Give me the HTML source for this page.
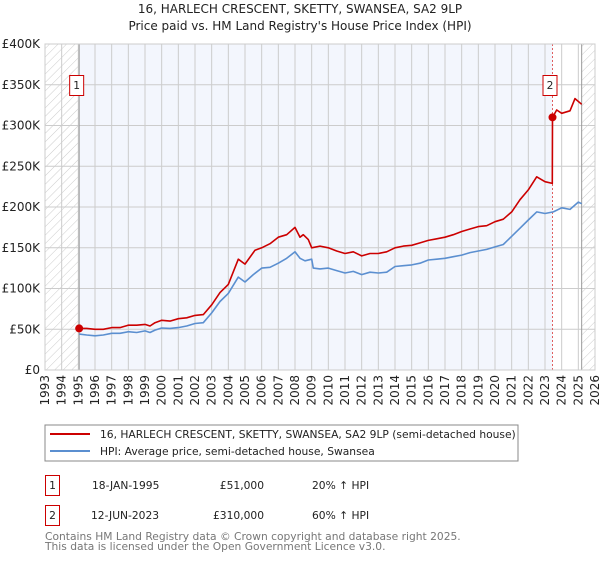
<!DOCTYPE html>
<html><head><meta charset="utf-8"><style>
body{margin:0;background:#fff;font-family:"DejaVu Sans","Liberation Sans",sans-serif;}
svg text{font-family:"DejaVu Sans","Liberation Sans",sans-serif;}
</style></head><body>
<svg id="c" width="600" height="560" viewBox="0 0 600 560" xmlns="http://www.w3.org/2000/svg">
<defs>
<pattern id="hatch" width="6" height="6" patternUnits="userSpaceOnUse" patternTransform="rotate(45)">
<line x1="0" y1="0" x2="0" y2="6" stroke="#ccc" stroke-width="1"/>
</pattern>
</defs>
<text x="300" y="13" text-anchor="middle" font-size="12" fill="#222">16, HARLECH CRESCENT, SKETTY, SWANSEA, SA2 9LP</text>
<text x="300" y="30" text-anchor="middle" font-size="12" fill="#222">Price paid vs. HM Land Registry's House Price Index (HPI)</text>
<g id="plot"></g>
<g>
<rect x="45" y="425" width="473" height="36" fill="#fff" stroke="#888"/>
<line x1="50" y1="434" x2="90" y2="434" stroke="#cc0000" stroke-width="2"/>
<text x="100" y="438" font-size="10.7" fill="#222">16, HARLECH CRESCENT, SKETTY, SWANSEA, SA2 9LP (semi-detached house)</text>
<line x1="50" y1="451" x2="90" y2="451" stroke="#5b8fd0" stroke-width="2"/>
<text x="100" y="455" font-size="10.7" fill="#222">HPI: Average price, semi-detached house, Swansea</text>
</g>
<g>
<rect x="45.5" y="475.5" width="14" height="20" fill="#fff" stroke="#cc0000"/>
<text x="52.5" y="489" text-anchor="middle" font-size="10.7" fill="#222">1</text>
<text x="92" y="489" font-size="10.7" fill="#222">18-JAN-1995</text>
<text x="264" y="489" text-anchor="end" font-size="10.7" fill="#222">£51,000</text>
<text x="312" y="489" font-size="10.7" fill="#222">20% ↑ HPI</text>
</g>
<g>
<rect x="45.5" y="505.5" width="14" height="20" fill="#fff" stroke="#cc0000"/>
<text x="52.5" y="519" text-anchor="middle" font-size="10.7" fill="#222">2</text>
<text x="91" y="519" font-size="10.7" fill="#222">12-JUN-2023</text>
<text x="264" y="519" text-anchor="end" font-size="10.7" fill="#222">£310,000</text>
<text x="312" y="519" font-size="10.7" fill="#222">60% ↑ HPI</text>
</g>
<text x="45" y="540" font-size="10.7" fill="#777">Contains HM Land Registry data © Crown copyright and database right 2025.</text>
<text x="45" y="550" font-size="10.7" fill="#777">This data is licensed under the Open Government Licence v3.0.</text>
</svg>
<script>
const hpiYears=[1995.05,1995.5,1996,1996.5,1997,1997.5,1998,1998.5,1999,1999.3,1999.6,2000,2000.5,2001,2001.5,2002,2002.5,2003,2003.5,2004,2004.6,2005,2005.5,2006,2006.5,2007,2007.5,2008,2008.3,2008.6,2009,2009.1,2009.5,2010,2010.5,2011,2011.5,2012,2012.5,2013,2013.5,2014,2014.5,2015,2015.5,2016,2016.5,2017,2017.5,2018,2018.5,2019,2019.5,2020,2020.5,2021,2021.5,2022,2022.5,2023,2023.5,2024,2024.5,2025,2025.2];
const hpiValues=[44,43,42,43,45,45,47,46,48,46,49,51.5,51,52,54,57,58,70,84,94,114,108,117,125,126,131,137,145,137,134,136,125,124,125,122,119,121,117,120,119,120,127,128,129,131,135,136,137,139,141,144,146,148,151,154,164,174,184,194,192,194,199,197,206,204];
const propYears=[1995.05,1995.5,1996,1996.5,1997,1997.5,1998,1998.5,1999,1999.3,1999.6,2000,2000.5,2001,2001.5,2002,2002.5,2003,2003.5,2004,2004.6,2005,2005.6,2006,2006.5,2007,2007.5,2008,2008.3,2008.5,2008.8,2009,2009.5,2010,2010.5,2011,2011.5,2012,2012.5,2013,2013.5,2014,2014.5,2015,2015.5,2016,2016.5,2017,2017.5,2018,2018.5,2019,2019.5,2020,2020.5,2021,2021.5,2022,2022.5,2023,2023.44,2023.45,2023.7,2024,2024.5,2024.8,2025.2];
const propValues=[51,51,50,50,52,52,55,55,56,54,58,61,60,63,64,67,68,80,95,105,136,130,147,150,155,163,166,175,163,166,160,150,152,150,146,143,145,140,143,143,145,150,152,153,156,159,161,163,166,170,173,176,177,182,185,194,209,221,237,231,229,310,319,315,318,333,326];
const sales=[{x:1995.05,v:51,label:"1"},{x:2023.45,v:310,label:"2"}];
const yTicks=[0,50,100,150,200,250,300,350,400];
const yTickLabels=["£0","£50K","£100K","£150K","£200K","£250K","£300K","£350K","£400K"];
const xTicks=[1993,1994,1995,1996,1997,1998,1999,2000,2001,2002,2003,2004,2005,2006,2007,2008,2009,2010,2011,2012,2013,2014,2015,2016,2017,2018,2019,2020,2021,2022,2023,2024,2025,2026];

const L=45,R=595,T=44,B=370,X0=1993,X1=2026,YMAX=400;
const sx=v=>L+(v-X0)/(X1-X0)*(R-L);
const sy=v=>B-v/YMAX*(B-T);
const NS="http://www.w3.org/2000/svg";
const g=document.getElementById('plot');
function mk(t,a){const e=document.createElementNS(NS,t);for(const k in a)e.setAttribute(k,a[k]);g.appendChild(e);return e;}

let e;
e=mk('rect',{x:L,y:T,width:R-L,height:B-T,fill:'#fff'});


e=mk('rect',{x:sx(1995.05),y:T,width:sx(2023.45)-sx(1995.05),height:B-T,fill:'#f3f6fd'});


e=mk('rect',{x:L,y:T,width:sx(1995.05)-L,height:B-T,fill:'url(#hatch)'});


e=mk('rect',{x:sx(2025.2),y:T,width:R-sx(2025.2),height:B-T,fill:'url(#hatch)'});



xTicks.forEach(t=>{
 e=mk('line',{x1:sx(t),x2:sx(t),y1:T,y2:B,stroke:'#ccc','stroke-width':1});
 
 
 const x=sx(t),y=375;
 e=mk('text',{x:x+4,y:y,'font-size':12,fill:'#222','text-anchor':'end',transform:`rotate(-90 ${x+4} ${y})`});
 e.textContent=t;
 
 
});
yTicks.forEach((t,i)=>{
 e=mk('line',{x1:L,x2:R,y1:sy(t),y2:sy(t),stroke:'#ccc','stroke-width':1});
 
 
 e=mk('text',{x:40,y:sy(t)+4,'font-size':12,fill:'#222','text-anchor':'end'});
 e.textContent=yTickLabels[i];
 
 
});
e=mk('line',{x1:sx(1995.05),x2:sx(1995.05),y1:T,y2:B,stroke:'#999','stroke-width':1});


e=mk('line',{x1:sx(2023.45),x2:sx(2023.45),y1:T,y2:B,stroke:'#e06060','stroke-width':1,'stroke-dasharray':'2,2'});


e=mk('line',{x1:sx(2025.2),x2:sx(2025.2),y1:T,y2:B,stroke:'#999','stroke-width':1});



function path(xs,vs,col,name){
 const d=xs.map((x,i)=>(i?'L':'M')+sx(x).toFixed(1)+','+sy(vs[i]).toFixed(1)).join('');
 const p=mk('path',{d:d,fill:'none',stroke:col,'stroke-width':1.6,'stroke-linejoin':'round'});
 
 
}
path(hpiYears,hpiValues,'#5b8fd0','hpi-line');
path(propYears,propValues,'#cc0000','property-price-line');

sales.forEach(s=>{
 e=mk('circle',{cx:sx(s.x),cy:sy(s.v),r:4,fill:'#cc0000'});
 
 
 const bx=sx(s.x)-9;
 e=mk('rect',{x:bx-0.5,y:75.5,width:14,height:20,fill:'#fff',stroke:'#cc0000'});
 
 
 e=mk('text',{x:bx+6.5,y:89,'font-size':10.7,fill:'#222','text-anchor':'middle'});
 e.textContent=s.label;
 
 
});
e=mk('rect',{x:L,y:T,width:R-L,height:B-T,fill:'none',stroke:'#ccc'});


</script>
</body></html>
